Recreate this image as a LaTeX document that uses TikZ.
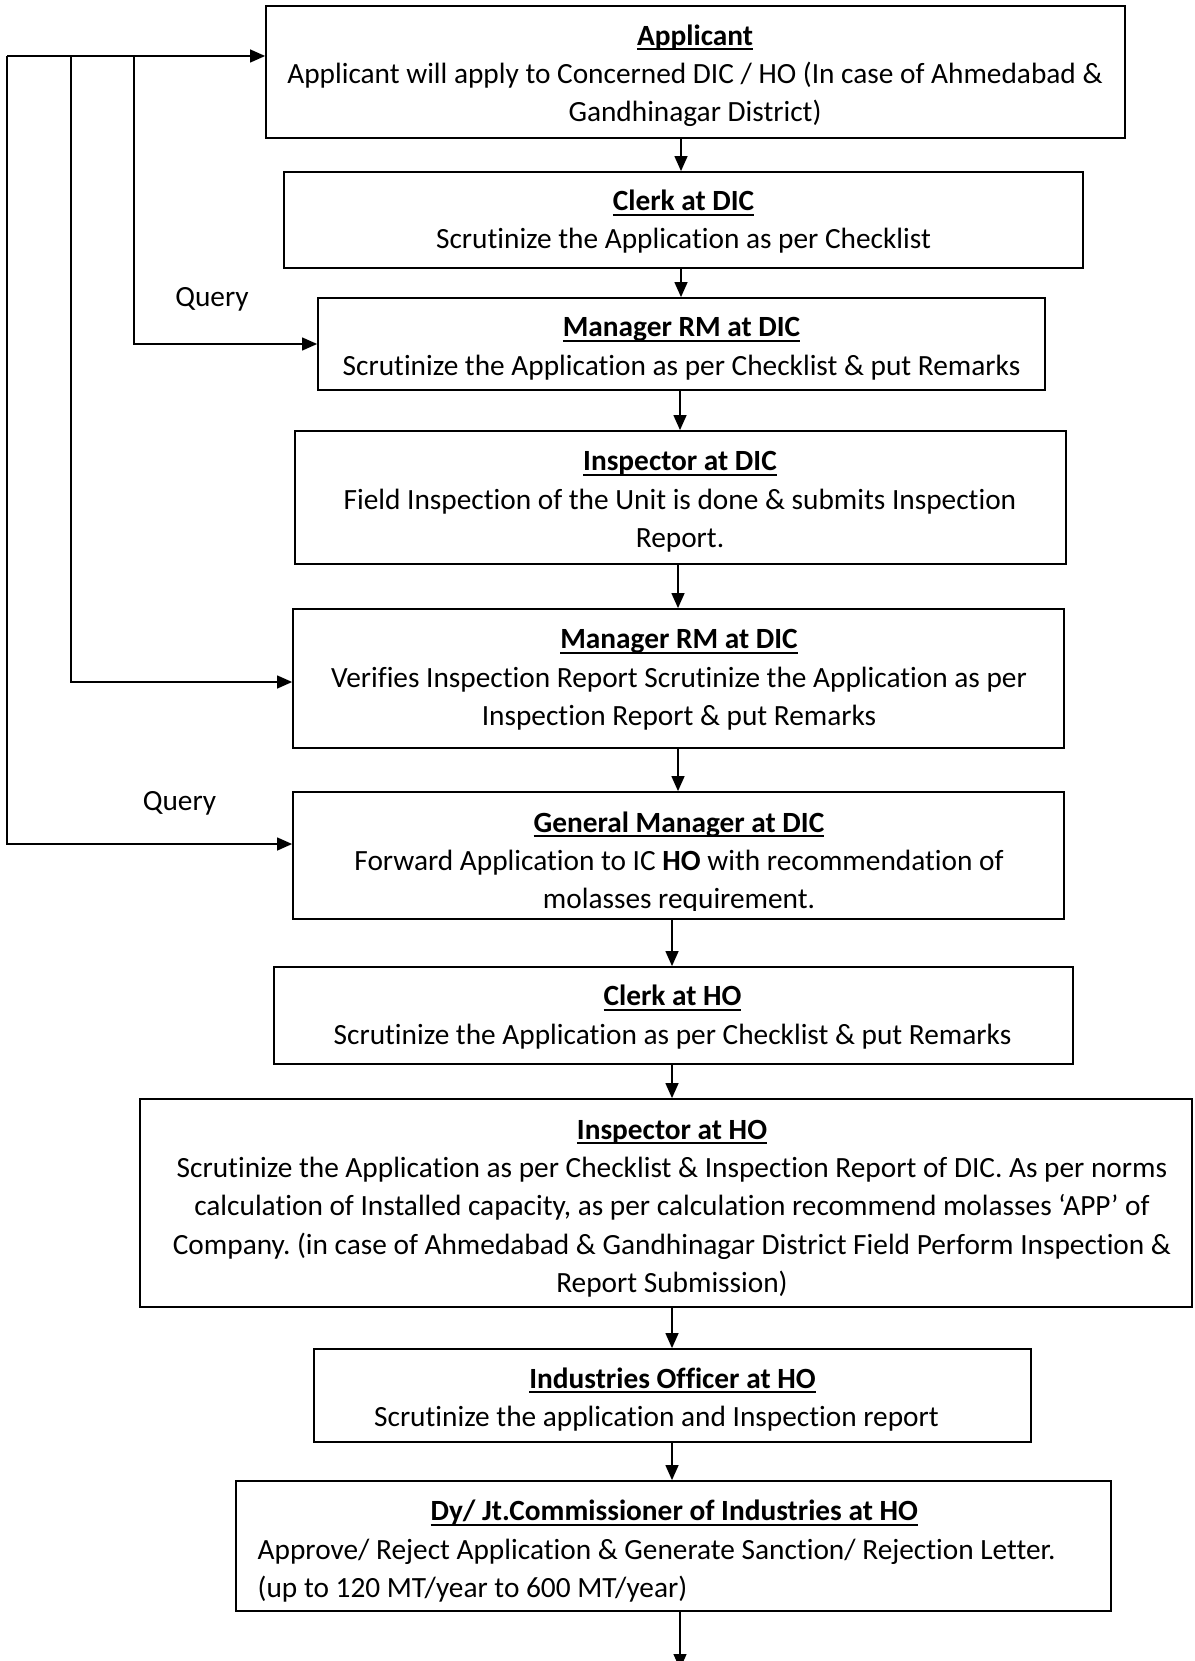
\documentclass[tikz,border=0pt]{standalone}
\usepackage{fontspec}
\setmainfont{Carlito}[Ligatures={TeX,NoCommon}]
\usetikzlibrary{arrows.meta}
\frenchspacing
\newsavebox{\myulbox}
\newcommand{\myul}[1]{\sbox{\myulbox}{#1}\rlap{\rule[-5pt]{\wd\myulbox}{1.8pt}}\usebox{\myulbox}}
\newcommand{\mytitle}[1]{\mystrut\myul{\textbf{#1}}}
\newcommand{\mystrut}{\rule{0pt}{26pt}}
\begin{document}
\begin{tikzpicture}[x=1pt,y=-1pt,
  box/.style={draw=black, line width=1.8pt, inner sep=0pt},
  txt/.style={inner sep=0pt, align=center, anchor=north, font=\fontsize{29.33pt}{38.3pt}\selectfont\frenchspacing},
  lab/.style={inner sep=0pt, anchor=base, font=\fontsize{29.33pt}{38.3pt}\selectfont},
  arr/.style={line width=1.3pt, -{Triangle[length=15pt,width=13pt]}}]
\useasboundingbox (0,0) rectangle (1194,1661);

% boxes
\node[box, minimum width=859pt, minimum height=132pt] (app) at (695.5,72) {};
\node[box, minimum width=799pt, minimum height=96pt] (clerk) at (683.5,220) {};
\node[box, minimum width=727pt, minimum height=92pt] (mgr1) at (681.5,344) {};
\node[box, minimum width=771pt, minimum height=133pt] (insp) at (680.5,497.5) {};
\node[box, minimum width=771pt, minimum height=139pt] (mgr2) at (678.5,678.5) {};
\node[box, minimum width=771pt, minimum height=127pt] (gm) at (678.5,855.5) {};
\node[box, minimum width=799pt, minimum height=97pt] (clerkho) at (673.5,1015.5) {};
\node[box, minimum width=1052pt, minimum height=208pt] (inspho) at (666,1203) {};
\node[box, minimum width=717pt, minimum height=93pt] (io) at (672.5,1395.5) {};
\node[box, minimum width=875pt, minimum height=130pt] (dy) at (673.5,1546) {};

% texts
\node[txt] (app-t) at (695,45-26) {\mytitle{Applicant}\\
  Applicant will apply to Concerned DIC / HO (In case of Ahmedabad \&\\
  Gandhinagar District)};
\node[txt] (clerk-t) at (683.5,210.5-26) {\mytitle{Clerk at DIC}\\
  Scrutinize the Application as per Checklist};
\node[txt] (mgr1-t) at (681.5,336.5-26) {\mytitle{Manager RM at DIC}\\
  Scrutinize the Application as per Checklist \& put Remarks};
\node[txt] (insp-t) at (680,470.5-26) {\mytitle{Inspector at DIC}\\
  Field Inspection of the Unit is done \& submits Inspection\\
  Report.};
\node[txt] (mgr2-t) at (679,648.5-26) {\mytitle{Manager RM at DIC}\\
  Verifies Inspection Report Scrutinize the Application as per\\
  Inspection Report \& put Remarks};
\begin{scope}
\clip (0,0) rectangle (1194,910);
\node[txt] (gm-t) at (679,832-26) {\mytitle{General Manager at DIC}\\
  Forward Application to IC \textbf{HO} with recommendation of\\
  molasses requirement.};
\end{scope}
\node[txt] (clerkho-t) at (672.5,1005.5-26) {\mytitle{Clerk at HO}\\
  Scrutinize the Application as per Checklist \& put Remarks};
\node[txt] (inspho-t) at (672,1139-26) {\mytitle{Inspector at HO}\\
  Scrutinize the Application as per Checklist \& Inspection Report of DIC. As per norms\\
  calculation of Installed capacity, as per calculation recommend molasses ‘APP’ of\\
  Company. (in case of Ahmedabad \& Gandhinagar District Field Perform Inspection \&\\
  Report Submission)};
\node[txt] (io-t) at (672.5,1388-26) {\mytitle{Industries Officer at HO}\\
  Scrutinize the application and Inspection report\kern32pt};
\node[txt, align=left, anchor=north west] (dy-t) at (257.5,1520.5-26) {\makebox[833pt][c]{\mytitle{Dy/ Jt.Commissioner of Industries at HO}}\\
  Approve/ Reject Application \& Generate Sanction/ Rejection Letter.\\
  (up to 120 MT/year to 600 MT/year)};

% query labels
\node[lab] (qa) at (212,306.5) {Query};
\node[lab] (qb) at (179.5,810) {Query};

% main flow arrows
\coordinate (ax1) at (681,0);
\coordinate (ax3) at (680,0);
\coordinate (ax4) at (678,0);
\coordinate (ax6) at (672,0);
\coordinate (ax10) at (680,0);
\coordinate (endpt) at (680,1669);
\draw[arr] (app.south -| ax1) -- (clerk.north -| ax1);
\draw[arr] (clerk.south -| ax1) -- (mgr1.north -| ax1);
\draw[arr] (mgr1.south -| ax3) -- (insp.north -| ax3);
\draw[arr] (insp.south -| ax4) -- (mgr2.north -| ax4);
\draw[arr] (mgr2.south -| ax4) -- (gm.north -| ax4);
\draw[arr] (gm.south -| ax6) -- (clerkho.north -| ax6);
\draw[arr] (clerkho.south -| ax6) -- (inspho.north -| ax6);
\draw[arr] (inspho.south -| ax6) -- (io.north -| ax6);
\draw[arr] (io.south -| ax6) -- (dy.north -| ax6);
\draw[arr] (dy.south -| ax10) -- (endpt);

% feedback (query) lines
\coordinate (f1) at (7,56);
\coordinate (f2) at (71,56);
\coordinate (f3) at (134,56);
\coordinate (q3) at (134,344);
\coordinate (q5) at (71,682);
\coordinate (q6) at (7,844);
\draw[arr] (f1) -- (app.west |- f1);
\draw[arr] (f3) -- (q3) -- (q3 -| mgr1.west);
\draw[arr] (f2) -- (q5) -- (q5 -| mgr2.west);
\draw[arr] (f1) -- (q6) -- (q6 -| gm.west);
\end{tikzpicture}
\end{document}
